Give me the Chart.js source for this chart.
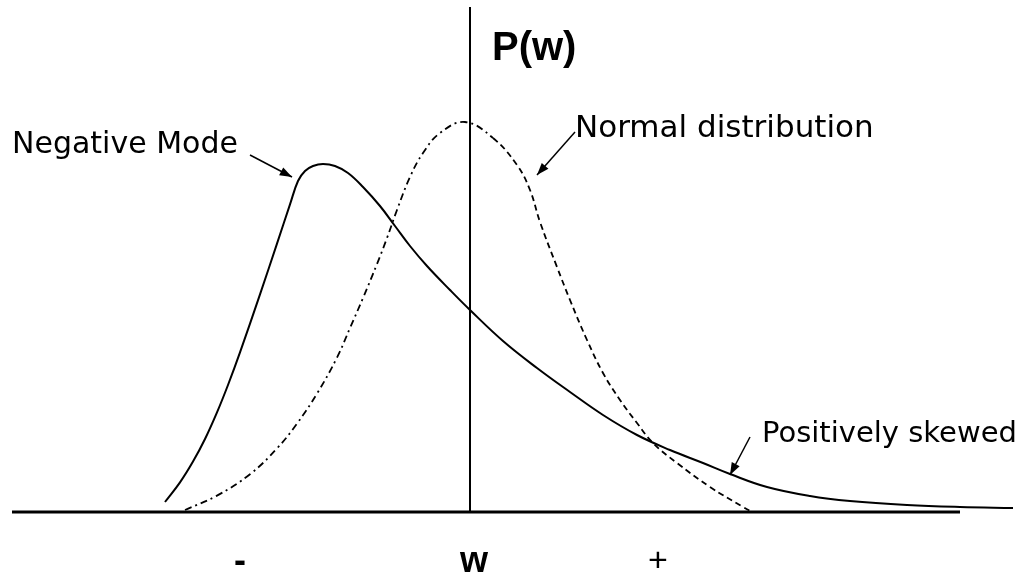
<!DOCTYPE html>
<html>
<head>
<meta charset="utf-8">
<script src="https://cdn.jsdelivr.net/npm/chart.js@4.4.1/dist/chart.umd.min.js"></script>
<style>
  html, body { margin: 0; padding: 0; background: #fff; }
  #wrap { width: 1026px; height: 578px; }
</style>
</head>
<body>
<div id="wrap"><canvas id="distChart" width="1026" height="578"></canvas></div>
<script>
// w values (vertical axis at w = 0) and P(w)
const skewW = [-3.05, -2.90, -2.77, -2.65, -2.53, -2.42, -2.30, -2.10, -1.93, -1.80, -1.72, -1.65, -1.57, -1.47, -1.35, -1.22, -1.07, -0.90, -0.75, -0.60, -0.43, -0.20, 0.00, 0.33, 0.67, 1.00, 1.33, 1.67, 2.00, 2.33, 2.60, 2.97, 3.40, 3.80, 4.37, 4.90, 5.43];
const skewP = [2.5, 7.4, 12.6, 18.25, 24.9, 31.75, 39.9, 54.4, 67.1, 76.9, 82.75, 85.25, 86.5, 87.0, 86.5, 84.75, 81.25, 76.5, 71.5, 66.5, 61.5, 55.5, 50.5, 42.75, 36.0, 30.0, 24.25, 19.25, 15.5, 12.25, 9.5, 6.25, 4.0, 2.75, 1.75, 1.25, 1.0];

const normW = [-2.85, -2.53, -2.20, -1.93, -1.73, -1.53, -1.33, -1.20, -1.07, -0.93, -0.83, -0.73, -0.60, -0.47, -0.30, -0.05, 0.23, 0.47, 0.60, 0.70, 0.87, 1.00, 1.17, 1.33, 1.50, 1.67, 1.83, 2.07, 2.40, 2.73, 2.80];
const normP = [0.5, 4.1, 9.45, 15.9, 22.1, 29.6, 38.6, 46.0, 53.5, 62.0, 68.5, 75.5, 83.75, 89.75, 94.75, 97.5, 93.5, 86.75, 80.5, 72.5, 61.25, 53.0, 43.0, 34.75, 28.0, 22.25, 17.25, 12.25, 6.25, 1.25, 0.25];

// axis labels under the w axis
const tickLabels = ['-', 'w', '+'];
const tickW = [-2.30, 0.04, 1.88];

function toPoints(xs, ys) {
    return xs.map((x, i) => ({ x: x, y: ys[i] }));
}

// axes, labels and callouts
const sketchPlugin = {
    id: 'sketch',
    beforeDatasetsDraw(chart) {
        const { ctx, scales: { x, y } } = chart;
        ctx.save();
        ctx.strokeStyle = '#000';
        // horizontal w axis
        ctx.lineWidth = 3;
        ctx.beginPath();
        ctx.moveTo(x.getPixelForValue(-4.58), y.getPixelForValue(0));
        ctx.lineTo(x.getPixelForValue(4.90), y.getPixelForValue(0));
        ctx.stroke();
        // vertical P(w) axis
        ctx.lineWidth = 2;
        ctx.beginPath();
        ctx.moveTo(x.getPixelForValue(0), y.getPixelForValue(0));
        ctx.lineTo(x.getPixelForValue(0), y.getPixelForValue(126.25));
        ctx.stroke();
        ctx.restore();
    },
    afterDraw(chart) {
        const { ctx, scales: { x, y } } = chart;
        const px = v => x.getPixelForValue(v);
        const py = v => y.getPixelForValue(v);
        ctx.save();
        ctx.fillStyle = '#000';
        ctx.strokeStyle = '#000';

        // P(w)
        ctx.font = 'bold 40px "Liberation Sans", Arial, sans-serif';
        ctx.textAlign = 'left';
        ctx.textBaseline = 'alphabetic';
        ctx.fillText('P(w)', px(0.22), py(113));

        // callout texts
        ctx.font = '30px "DejaVu Sans", sans-serif';
        ctx.fillText('Negative Mode', px(-4.58), py(89.75));
        ctx.font = '31px "DejaVu Sans", sans-serif';
        ctx.fillText('Normal distribution', px(1.05), py(93.75));
        ctx.font = '29px "DejaVu Sans", sans-serif';
        ctx.fillText('Positively skewed', px(2.92), py(17.5));

        // tick labels
        ctx.textAlign = 'center';
        ctx.textBaseline = 'middle';
        tickLabels.forEach((t, i) => {
            ctx.font = t === '+' ? '34px "Liberation Sans", Arial, sans-serif'
                                 : 'bold 36px "Liberation Sans", Arial, sans-serif';
            ctx.fillText(t, px(tickW[i]), py(-12.5));
        });

        // arrows
        const arrow = (w0, p0, w1, p1) => {
            const x0 = px(w0), y0 = py(p0), x1 = px(w1), y1 = py(p1);
            const a = Math.atan2(y1 - y0, x1 - x0);
            ctx.lineWidth = 1.5;
            ctx.beginPath();
            ctx.moveTo(x0, y0);
            ctx.lineTo(x1, y1);
            ctx.stroke();
            ctx.beginPath();
            ctx.moveTo(x1, y1);
            ctx.lineTo(x1 - 13 * Math.cos(a - 0.35), y1 - 13 * Math.sin(a - 0.35));
            ctx.lineTo(x1 - 13 * Math.cos(a + 0.35), y1 - 13 * Math.sin(a + 0.35));
            ctx.closePath();
            ctx.fill();
        };
        arrow(-2.20, 89.25, -1.78, 83.75);
        arrow(1.05, 95.0, 0.67, 84.25);
        arrow(2.80, 18.75, 2.60, 9.25);
        ctx.restore();
    }
};

const chart = new Chart(document.getElementById('distChart'), {
    type: 'scatter',
    data: {
        datasets: [{
            label: 'Positively skewed',
            data: toPoints(skewW, skewP),
            showLine: true,
            borderColor: '#000',
            borderWidth: 2,
            pointRadius: 0,
            tension: 0.4,
            clip: false
        }, {
            label: 'Normal distribution',
            data: toPoints(normW, normP),
            showLine: true,
            borderColor: '#000',
            borderWidth: 1.8,
            pointRadius: 0,
            tension: 0.4,
            clip: false,
            segment: {
                borderDash: c => c.p0.parsed.x < 0 ? [7, 4, 2, 4] : [6, 4]
            }
        }]
    },
    options: {
        responsive: false,
        animation: false,
        layout: { padding: { left: 12, right: 10, top: 7, bottom: 66 } },
        plugins: {
            legend: { display: false },
            tooltip: { enabled: false }
        },
        scales: {
            x: { type: 'linear', min: -4.58, max: 5.46, display: false },
            y: { type: 'linear', min: 0, max: 126.25, display: false }
        }
    },
    plugins: [sketchPlugin]
});
</script>
</body>
</html>
